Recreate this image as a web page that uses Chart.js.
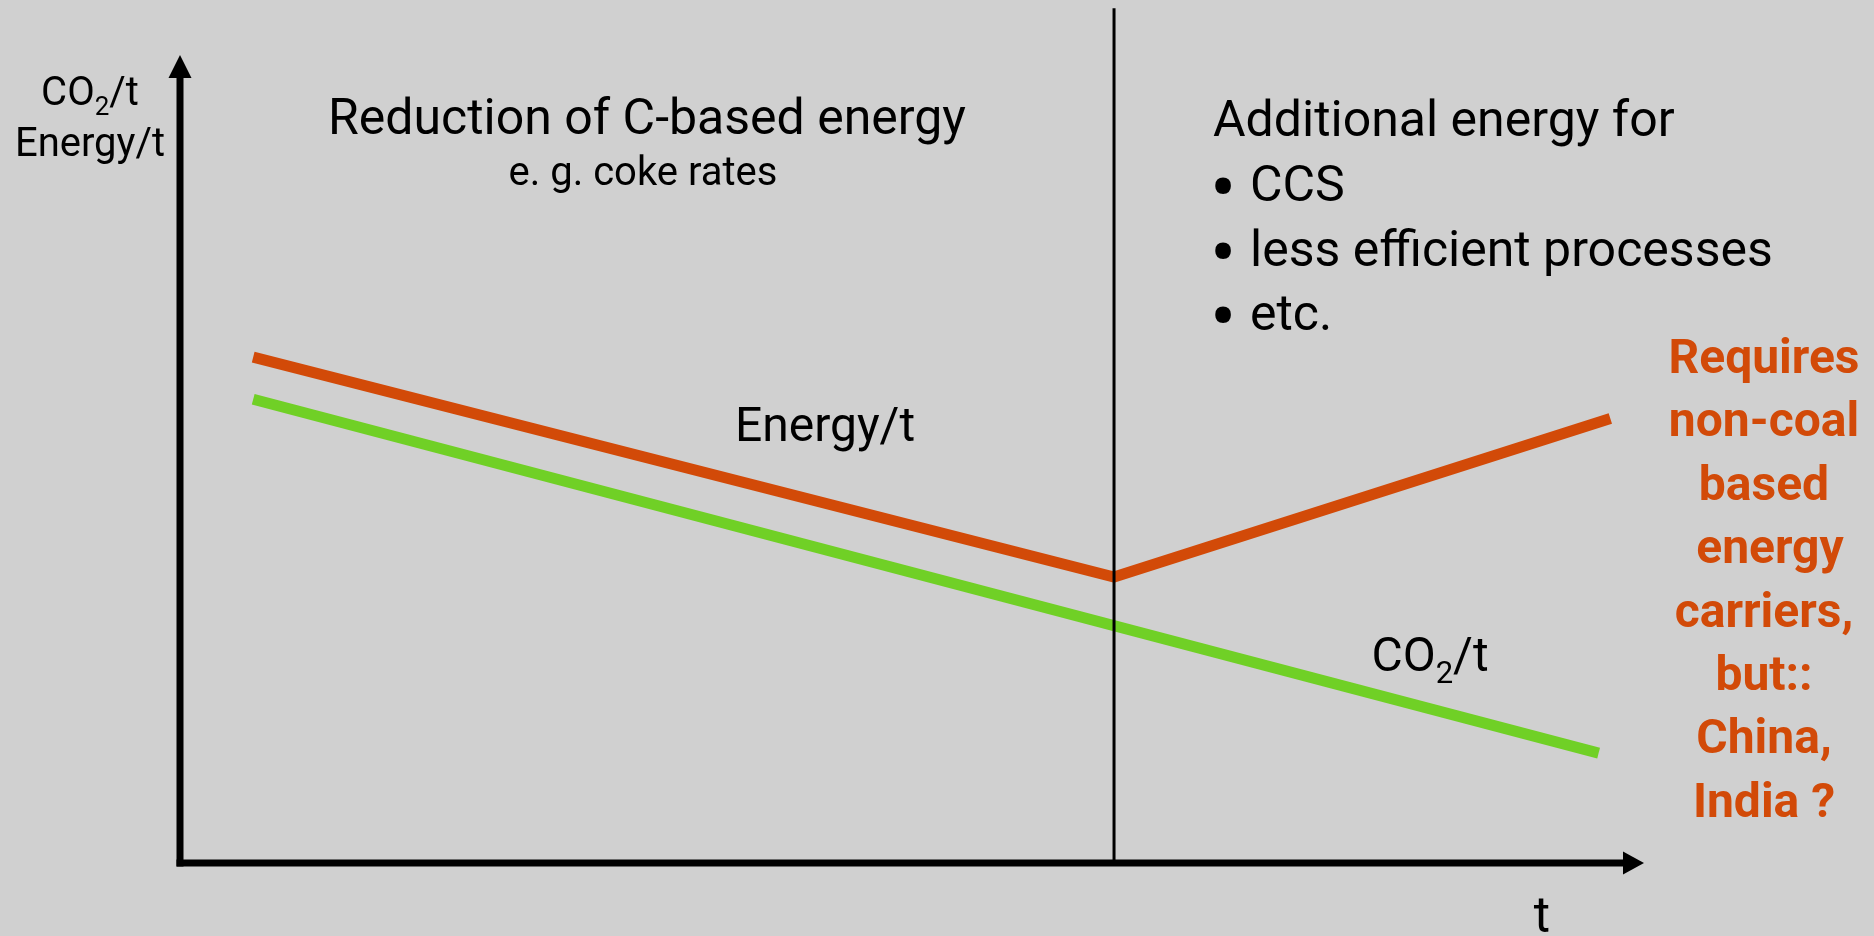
<!DOCTYPE html>
<html>
<head>
<meta charset="utf-8">
<title>CO2/t and Energy/t over time</title>
<script src="https://cdn.jsdelivr.net/npm/chart.js@4.4.1/dist/chart.umd.min.js"></script>
<style>
  html, body { margin: 0; padding: 0; background: #d0d0d0; }
  #chartBox { width: 1874px; height: 936px; position: relative; }
</style>
</head>
<body>
<div id="chartBox"><canvas id="myChart"></canvas></div>
<script>
// sketch has no units, both axes run 0..100
const energyTime = [5, 63.8, 97.7];
const energyPerTon = [62.6, 35.4, 55.0];

const co2Time = [5, 96.9];
const co2PerTon = [57.4, 13.6];

// vertical line where the two regimes meet (runs above the axis top)
const dividerTime = [63.8, 63.8];
const dividerValue = [0, 105.8];

const bulletItems = ["CCS", "less efficient processes", "etc."];
const rightNote = ["Requires", "non-coal", "based", " energy", "carriers,", "but::", "China,", "India ?"];

const orange = '#d24a08';
const green = '#70d026';

function toPoints(xs, ys){
    let pts = [];
    for(let i = 0; i < xs.length; i++){
        pts.push({x: xs[i], y: ys[i]});
    }
    return pts;
}

// draws "CO" + subscript 2 + "/t" centred on x
function drawCO2(ctx, x, y, size){
    let subSize = Math.round(size * 0.64);
    ctx.font = size + 'px Roboto';
    let w1 = ctx.measureText('CO').width;
    let w3 = ctx.measureText('/t').width;
    ctx.font = subSize + 'px Roboto';
    let w2 = ctx.measureText('2').width;
    let start = x - (w1 + w2 + w3) / 2;
    ctx.textAlign = 'left';
    ctx.font = size + 'px Roboto';
    ctx.fillText('CO', start, y);
    ctx.font = subSize + 'px Roboto';
    ctx.fillText('2', start + w1, y + size * 0.24);
    ctx.font = size + 'px Roboto';
    ctx.fillText('/t', start + w1 + w2, y);
}

const sketchPlugin = {
    id: 'sketch',
    afterDatasetsDraw(chart){
        const ctx = chart.ctx;
        const a = chart.chartArea;
        ctx.save();

        // axes with arrow heads
        ctx.fillStyle = '#000';
        ctx.fillRect(a.left - 3.5, a.top + 20, 7, a.bottom + 3.5 - (a.top + 20));
        ctx.beginPath();
        ctx.moveTo(a.left, a.top);
        ctx.lineTo(a.left - 11.5, a.top + 23);
        ctx.lineTo(a.left + 11.5, a.top + 23);
        ctx.closePath();
        ctx.fill();

        ctx.fillRect(a.left - 3.5, a.bottom - 3.5, a.right - 18 - (a.left - 3.5), 7);
        ctx.beginPath();
        ctx.moveTo(a.right, a.bottom);
        ctx.lineTo(a.right - 21, a.bottom - 11.5);
        ctx.lineTo(a.right - 21, a.bottom + 11.5);
        ctx.closePath();
        ctx.fill();

        ctx.textBaseline = 'alphabetic';

        // y axis label, top left
        drawCO2(ctx, 90, 105, 40);
        ctx.textAlign = 'center';
        ctx.font = '40px Roboto';
        ctx.fillText('Energy/t', 90, 156);

        // x axis label
        ctx.font = '50px Roboto';
        ctx.fillText('t', 1542, 932);

        // left region heading
        ctx.font = '50px Roboto';
        ctx.fillText('Reduction of C-based energy', 647, 134);
        ctx.font = '40px Roboto';
        ctx.fillText('e. g. coke rates', 643, 185);

        // right region heading and bullets
        ctx.textAlign = 'left';
        ctx.font = '50px Roboto';
        ctx.fillText('Additional energy for', 1213, 136);
        for(let i = 0; i < bulletItems.length; i++){
            let yy = 201 + i * 64.5;
            ctx.font = '78px Roboto';
            ctx.fillText('\u2022', 1210, yy + 13);
            ctx.font = '50px Roboto';
            ctx.fillText(bulletItems[i], 1250, yy);
        }

        // series labels
        ctx.textAlign = 'center';
        ctx.font = '48px Roboto';
        ctx.fillText('Energy/t', 825, 441);
        drawCO2(ctx, 1430, 671, 48);

        // orange note at the far right
        ctx.fillStyle = orange;
        ctx.textAlign = 'center';
        ctx.font = 'bold 48px Roboto';
        for(let i = 0; i < rightNote.length; i++){
            ctx.fillText(rightNote[i], 1764, 373 + i * 63.4);
        }

        ctx.restore();
    }
};

const ctx = document.getElementById('myChart');

let chartData = {
    datasets: [
        {
            label: 'divider',
            data: toPoints(dividerTime, dividerValue),
            borderColor: '#000',
            borderWidth: 3,
            pointRadius: 0,
            clip: false
        },
        {
            label: 'Energy/t',
            data: toPoints(energyTime, energyPerTon),
            borderColor: orange,
            borderWidth: 11,
            borderJoinStyle: 'miter',
            pointRadius: 0
        },
        {
            label: 'CO2/t',
            data: toPoints(co2Time, co2PerTon),
            borderColor: green,
            borderWidth: 11,
            pointRadius: 0
        }
    ]
};

let chartConfig = {
    type: 'line',
    data: chartData,
    options: {
        responsive: true,
        maintainAspectRatio: false,
        animation: false,
        layout: {
            padding: {left: 180, top: 55, right: 230, bottom: 73}
        },
        plugins: {
            legend: {display: false},
            tooltip: {enabled: false}
        },
        scales: {
            x: {type: 'linear', min: 0, max: 100, display: false},
            y: {type: 'linear', min: 0, max: 100, display: false}
        }
    },
    plugins: [sketchPlugin]
};

let globalChart = new Chart(ctx, chartConfig);
</script>
</body>
</html>
